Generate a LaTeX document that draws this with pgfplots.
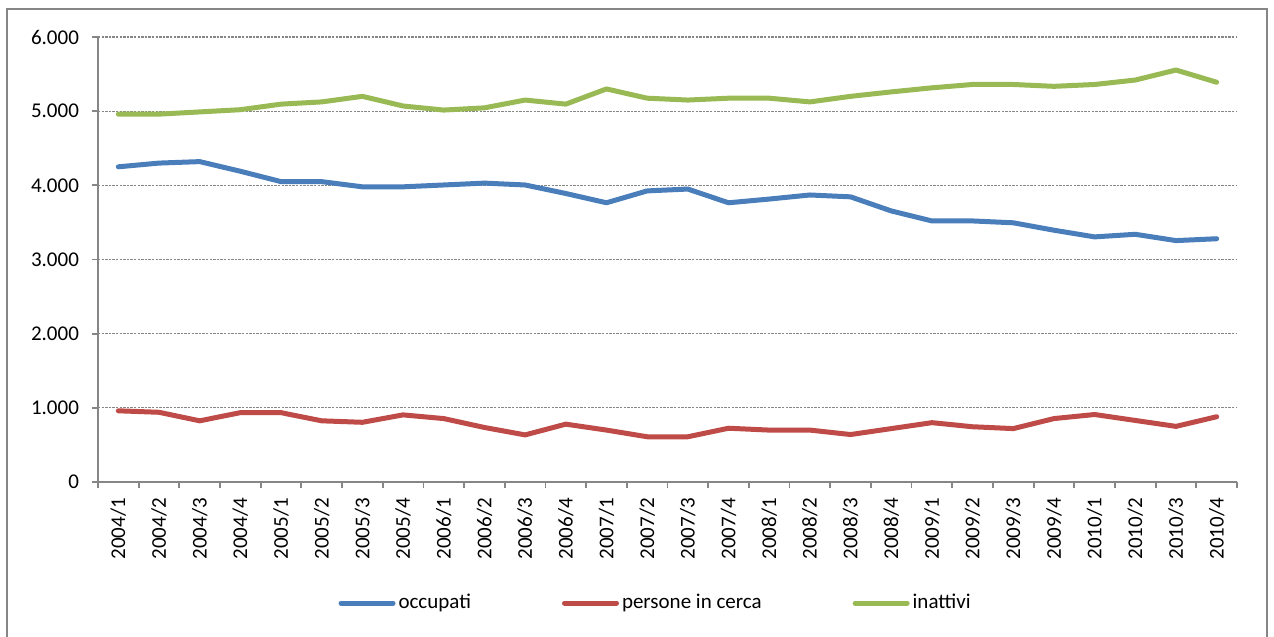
\documentclass[border=0pt]{standalone}
\usepackage{fontspec}
\setmainfont{Carlito}
\usepackage{pgfplots}
\usepackage{pgfplotstable}
\pgfplotsset{compat=1.18}

\definecolor{occ}{HTML}{4A7EBB}
\definecolor{cerca}{HTML}{BE4B48}
\definecolor{inat}{HTML}{98B954}
\definecolor{axgray}{HTML}{868686}

% quarterly values, thousands
\pgfplotstableread{
x  occupati cerca inattivi
0  4250 960 4960
1  4300 940 4960
2  4320 825 4990
3  4190 935 5020
4  4050 935 5095
5  4050 825 5125
6  3980 805 5200
7  3980 905 5070
8  4005 855 5015
9  4030 735 5045
10 4005 635 5150
11 3890 780 5095
12 3765 700 5300
13 3925 610 5175
14 3950 610 5150
15 3765 725 5175
16 3815 700 5175
17 3870 700 5125
18 3845 640 5200
19 3655 720 5260
20 3520 800 5315
21 3520 745 5360
22 3495 720 5360
23 3395 855 5335
24 3305 910 5360
25 3340 830 5420
26 3255 750 5555
27 3280 880 5390
}\datatable

\begin{document}
\begin{tikzpicture}
\path[use as bounding box] (-49pt,-77.5pt) rectangle (588pt,241pt);
\begin{axis}[
    scale only axis,
    width=569.5pt, height=222.5pt,
    at={(0,0)}, anchor=south west,
    font=\fontsize{10.5}{12}\selectfont,
    xmin=-0.5, xmax=27.5,
    ymin=0, ymax=6000,
    axis x line*=bottom, axis y line*=left,
    axis line style={axgray, line width=0.9pt},
    xtick={0,...,27},
    xticklabels={2004/1,2004/2,2004/3,2004/4,2005/1,2005/2,2005/3,2005/4,
                 2006/1,2006/2,2006/3,2006/4,2007/1,2007/2,2007/3,2007/4,
                 2008/1,2008/2,2008/3,2008/4,2009/1,2009/2,2009/3,2009/4,
                 2010/1,2010/2,2010/3,2010/4},
    x tick label style={rotate=90, anchor=east},
    xticklabel shift=4.5pt,
    yticklabel shift=6pt,
    minor xtick={-0.5,0.5,...,27.5},
    ytick={0,1000,...,6000},
    tick align=outside,
    major tick length=0pt,
    minor tick length=3pt,
    extra y ticks={0,1000,...,6000},
    extra y tick labels={},
    extra y tick style={major tick length=3pt, grid=none, yticklabel shift=0pt},
    every tick/.style={axgray, line width=0.9pt},
    ymajorgrids,
    major grid style={gray!95, dash pattern=on 1.2pt off 0.6pt, line width=0.6pt},
    /pgf/number format/.cd, 1000 sep={.}, assume math mode=true,
    /pgfplots/.cd,
    legend columns=3,
    legend style={at={(0.490,-0.272)}, anchor=center, draw=none,
        font=\fontsize{10.5}{12}\selectfont,
        /tikz/every even column/.append style={column sep=44pt},
        nodes={inner xsep=1.5pt}},
    legend image code/.code={\draw[#1, line cap=round] (0pt,0pt) -- (26pt,0pt);},
    every axis plot/.append style={line width=2.5pt, line join=round, line cap=round},
]
\addplot[occ] table[x=x, y=occupati] {\datatable};
\addlegendentry{occupati}
\addplot[cerca] table[x=x, y=cerca] {\datatable};
\addlegendentry{persone in cerca}
\addplot[inat] table[x=x, y=inattivi] {\datatable};
\addlegendentry{inattivi}
\end{axis}
\draw[axgray, line width=0.9pt] (-45.5pt,-77.5pt) -- (-45.5pt,236.5pt)
    -- (584.5pt,236.5pt) -- (584.5pt,-77.5pt);
\end{tikzpicture}
\end{document}
